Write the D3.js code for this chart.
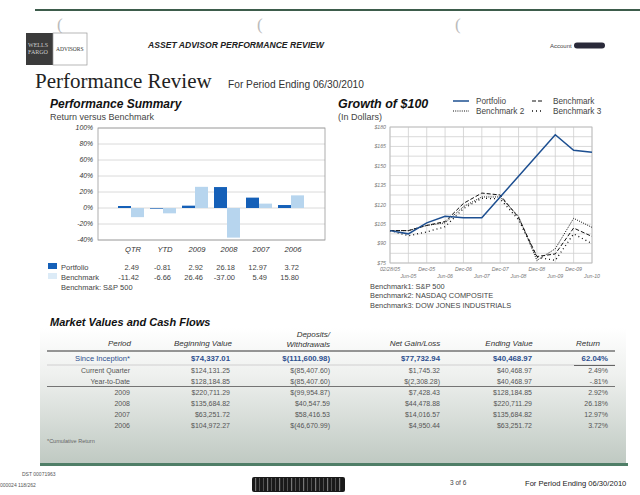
<!DOCTYPE html>
<html><head><meta charset="utf-8">
<script src="https://cdn.jsdelivr.net/npm/d3@7"></script>
<style>body{margin:0;background:#fff;} svg{display:block;font-family:"Liberation Sans",Arial,sans-serif;}</style>
</head><body><svg id="c" width="640" height="495"></svg>
<script>
// ---------- DATA ----------
const barCategories = ["QTR","YTD","2009","2008","2007","2006"];
const portfolioReturns = [2.49,-0.81,2.92,26.18,12.97,3.72];
const benchmarkReturns = [-11.42,-6.66,26.46,-37.00,5.49,15.80];
const barTicks = [100,80,60,40,20,0,-20,-40];

const growthDates = ["02/28/05","Jun-05","Dec-05","Jun-06","Dec-06","Jun-07","Dec-07","Jun-08","Dec-08","Jun-09","Dec-09","Jun-10"];
const growthPortfolio = [100,97.5,106,111,110,110,126,142,158,174,162,160.5];
const growthBench1 = [100,100,104,107,121,129,127.5,110,80,82,102,95.5];
const growthBench2 = [100,100,104,106,118.5,126,126,111,77,86,109.5,102.5];
const growthBench3 = [100,96,99,103,117,125,124.5,108.5,79.5,77,97.5,90];
const growthTicks = [75,90,105,120,135,150,165,180];

const tablePeriods = ["Since Inception*","Current Quarter","Year-to-Date","2009","2008","2007","2006"];
const tableBeginning = ["$74,337.01","$124,131.25","$128,184.85","$220,711.29","$135,684.82","$63,251.72","$104,972.27"];
const tableDeposits = ["$(111,600.98)","$(85,407.60)","$(85,407.60)","$(99,954.87)","$40,547.59","$58,416.53","$(46,670.99)"];
const tableGain = ["$77,732.94","$1,745.32","$(2,308.28)","$7,428.43","$44,478.88","$14,016.57","$4,950.44"];
const tableEnding = ["$40,468.97","$40,468.97","$40,468.97","$128,184.85","$220,711.29","$135,684.82","$63,251.72"];
const tableReturn = ["62.04%","2.49%","-.81%","2.92%","26.18%","12.97%","3.72%"];

// ---------- DRAW ----------
const svg = d3.select("#c");
const defs = svg.append("defs");
const g1 = defs.append("linearGradient").attr("id","tbg").attr("x1",0).attr("y1",0).attr("x2",0).attr("y2",1);
g1.append("stop").attr("offset","0%").attr("stop-color","#ffffff");
g1.append("stop").attr("offset","35%").attr("stop-color","#eef0ee");
g1.append("stop").attr("offset","100%").attr("stop-color","#bfc9c2");

// top green rule
svg.append("rect").attr("x",35).attr("y",9).attr("width",605).attr("height",2).attr("fill","#3d5c4b");
// binder hole marks
[[57,24],[257,24],[455,24]].forEach(p=>svg.append("text").attr("x",p[0]).attr("y",p[1]+6).attr("font-size",17).attr("fill","#bbb").attr("font-family","Liberation Serif").text("("));

// logo
svg.append("rect").attr("x",26).attr("y",33).attr("width",27).attr("height",32).attr("fill","#3b3b3b");
svg.append("text").attr("x",28).attr("y",47).attr("font-size",6).attr("font-family","Liberation Serif").attr("fill","#ccc").text("WELLS");
svg.append("text").attr("x",28).attr("y",54).attr("font-size",6).attr("font-family","Liberation Serif").attr("fill","#ccc").text("FARGO");
svg.append("rect").attr("x",53).attr("y",33).attr("width",34).attr("height",32).attr("fill","#fff").attr("stroke","#999").attr("stroke-width",0.7);
svg.append("text").attr("x",56).attr("y",51).attr("font-size",5.5).attr("font-family","Liberation Serif").attr("fill","#333").text("ADVISORS");

svg.append("text").attr("x",148).attr("y",48).attr("font-size",8.6).attr("font-weight","bold").attr("font-style","italic").attr("fill","#222").text("ASSET ADVISOR PERFORMANCE REVIEW");
svg.append("text").attr("x",550).attr("y",48).attr("font-size",6).attr("fill","#444").text("Account");
svg.append("rect").attr("x",574).attr("y",42.5).attr("width",31).attr("height",6).attr("rx",3).attr("fill","#2a2a3a");

svg.append("text").attr("x",35).attr("y",88).attr("font-size",21).attr("font-family","Liberation Serif").attr("fill","#222").text("Performance Review");
svg.append("text").attr("x",228).attr("y",88).attr("font-size",10.2).attr("fill","#333").text("For Period Ending 06/30/2010");

// ---------- Bar chart ----------
svg.append("text").attr("x",50).attr("y",108).attr("font-size",12).attr("font-weight","bold").attr("font-style","italic").attr("fill","#111").text("Performance Summary");
svg.append("text").attr("x",50).attr("y",120).attr("font-size",9).attr("fill","#444").text("Return versus Benchmark");

const bx = d3.scaleBand().domain(barCategories).range([115,307]);
const by = d3.scaleLinear().domain([-40,100]).range([240,128]);
const bw = 13;
const bp = svg.append("g");
bp.selectAll("line.g").data(barTicks).join("line").attr("x1",98).attr("x2",325)
  .attr("y1",d=>by(d)).attr("y2",d=>by(d)).attr("stroke","#d0d0d0").attr("stroke-width",0.8);
bp.append("rect").attr("x",98).attr("y",128).attr("width",227).attr("height",112).attr("fill","none").attr("stroke","#9a9a9a").attr("stroke-width",0.8);
bp.selectAll("text.t").data(barTicks).join("text").attr("x",93).attr("y",d=>by(d)+2.3)
  .attr("text-anchor","end").attr("font-size",6.8).attr("font-style","italic").attr("fill","#333").text(d=>d+"%");
const cx = c=>bx(c)+bx.bandwidth()/2;
bp.selectAll("rect.p").data(barCategories).join("rect")
  .attr("x",c=>cx(c)-bw).attr("width",bw)
  .attr("y",(c,i)=>by(Math.max(0,portfolioReturns[i]))).attr("height",(c,i)=>Math.abs(by(portfolioReturns[i])-by(0)))
  .attr("fill","#1560b8");
bp.selectAll("rect.b").data(barCategories).join("rect")
  .attr("x",c=>cx(c)).attr("width",bw)
  .attr("y",(c,i)=>by(Math.max(0,benchmarkReturns[i]))).attr("height",(c,i)=>Math.abs(by(benchmarkReturns[i])-by(0)))
  .attr("fill","#b7d5ee");
bp.selectAll("text.c").data(barCategories).join("text").attr("x",c=>cx(c)+2).attr("y",252)
  .attr("text-anchor","middle").attr("font-size",7.6).attr("font-style","italic").attr("fill","#333").text(c=>c);
// legend table
svg.append("rect").attr("x",48).attr("y",263).attr("width",9).attr("height",6).attr("fill","#1560b8");
svg.append("rect").attr("x",48).attr("y",273).attr("width",9).attr("height",6).attr("fill","#dcebf7");
svg.append("text").attr("x",61).attr("y",270).attr("font-size",7.5).attr("fill","#444").text("Portfolio");
svg.append("text").attr("x",61).attr("y",280).attr("font-size",7.5).attr("fill","#444").text("Benchmark");
svg.append("text").attr("x",61).attr("y",290).attr("font-size",7.5).attr("fill","#444").text("Benchmark: S&P 500");
svg.selectAll("text.pv").data(barCategories).join("text").attr("x",c=>cx(c)+8).attr("y",270)
  .attr("text-anchor","end").attr("font-size",7.5).attr("fill","#444").text((c,i)=>portfolioReturns[i].toFixed(2));
svg.selectAll("text.bv").data(barCategories).join("text").attr("x",c=>cx(c)+8).attr("y",280)
  .attr("text-anchor","end").attr("font-size",7.5).attr("fill","#444").text((c,i)=>benchmarkReturns[i].toFixed(2));

// ---------- Line chart ----------
svg.append("text").attr("x",338).attr("y",108).attr("font-size",12.5).attr("font-weight","bold").attr("font-style","italic").attr("fill","#111").text("Growth of $100");
svg.append("text").attr("x",338).attr("y",120).attr("font-size",9).attr("fill","#444").text("(In Dollars)");

const lx = d3.scalePoint().domain(growthDates).range([390,592]);
const ly = d3.scaleLinear().domain([75,180]).range([263,127]);
const lp = svg.append("g");
lp.selectAll("line.h").data(d3.range(75,180.1,7.5)).join("line").attr("x1",390).attr("x2",592)
  .attr("y1",d=>ly(d)).attr("y2",d=>ly(d)).attr("stroke","#cfcfcf").attr("stroke-width",0.8);
lp.selectAll("line.v").data(growthDates).join("line").attr("y1",127).attr("y2",263)
  .attr("x1",d=>lx(d)).attr("x2",d=>lx(d)).attr("stroke","#cfcfcf").attr("stroke-width",0.8);
lp.append("rect").attr("x",390).attr("y",127).attr("width",202).attr("height",136).attr("fill","none").attr("stroke","#bbb").attr("stroke-width",0.8);
lp.selectAll("text.yt").data(growthTicks).join("text").attr("x",386).attr("y",d=>ly(d)+1.8)
  .attr("text-anchor","end").attr("font-size",5.2).attr("font-style","italic").attr("fill","#777").text(d=>"$"+d);
lp.selectAll("text.xt").data(growthDates).join("text").attr("x",d=>lx(d)).attr("y",(d,i)=>i%2===0?270.5:278)
  .attr("text-anchor","middle").attr("font-size",5.2).attr("font-style","italic").attr("fill","#777").text(d=>d);
const line = d3.line().x((d,i)=>lx(growthDates[i])).y(d=>ly(d));
const series = [
  {v:growthBench3, stroke:"#111", dash:"1,3", w:1.3},
  {v:growthBench2, stroke:"#111", dash:"1,1.2", w:1},
  {v:growthBench1, stroke:"#111", dash:"4,2", w:1},
  {v:growthPortfolio, stroke:"#1d4f91", dash:null, w:1.5}
];
series.forEach(s=>lp.append("path").attr("d",line(s.v)).attr("fill","none").attr("stroke",s.stroke)
  .attr("stroke-width",s.w).attr("stroke-dasharray",s.dash));
// legend
const leg = [
  {x:453,y:101,label:"Portfolio",s:series[3]},
  {x:453,y:111,label:"Benchmark 2",s:series[1]},
  {x:532,y:101,label:"Benchmark",s:series[2]},
  {x:532,y:111,label:"Benchmark 3",s:series[0]}
];
leg.forEach(l=>{
  svg.append("line").attr("x1",l.x).attr("x2",l.x+(l.x<500?16:12)).attr("y1",l.y).attr("y2",l.y)
    .attr("stroke",l.s.stroke).attr("stroke-width",l.s.w).attr("stroke-dasharray",l.s.dash);
  svg.append("text").attr("x",l.x<500?476:553).attr("y",l.y+3).attr("font-size",8.2).attr("fill","#444").text(l.label);
});
["Benchmark1: S&P 500","Benchmark2: NASDAQ COMPOSITE","Benchmark3: DOW JONES INDUSTRIALS"].forEach((t,i)=>
  svg.append("text").attr("x",370).attr("y",288.5+i*9.5).attr("font-size",7.4).attr("fill","#444").text(t));

// ---------- Table ----------
svg.append("rect").attr("x",40).attr("y",328).attr("width",586).attr("height",136).attr("fill","url(#tbg)");
svg.append("rect").attr("x",40).attr("y",463).attr("width",588).attr("height",3).attr("fill","#4f7e67");
svg.append("text").attr("x",50).attr("y",326).attr("font-size",11).attr("font-weight","bold").attr("font-style","italic").attr("fill","#111").text("Market Values and Cash Flows");

function ht(x,y,anchor,t){svg.append("text").attr("x",x).attr("y",y).attr("text-anchor",anchor).attr("font-size",8).attr("font-style","italic").attr("fill","#333").text(t);}
ht(131,346,"end","Period");
ht(203,346,"middle","Beginning Value");
ht(330,337,"end","Deposits/");
ht(330,347,"end","Withdrawals");
ht(415,346,"middle","Net Gain/Loss");
ht(509,346,"middle","Ending Value");
ht(588,346,"middle","Return");
svg.append("line").attr("x1",47).attr("x2",615).attr("y1",351).attr("y2",351).attr("stroke","#333").attr("stroke-width",1);
svg.append("line").attr("x1",47).attr("x2",615).attr("y1",365).attr("y2",365).attr("stroke","#bbb").attr("stroke-width",0.6);
svg.append("line").attr("x1",574).attr("x2",615).attr("y1",365.5).attr("y2",365.5).attr("stroke","#444").attr("stroke-width",0.8);
svg.append("line").attr("x1",47).attr("x2",615).attr("y1",386.5).attr("y2",386.5).attr("stroke","#555").attr("stroke-width",0.8);

const rowY = i => i===0 ? 361 : 372.5 + (i-1)*11.1;
const cols = [
  {data:tablePeriods, x:130},
  {data:tableBeginning, x:230},
  {data:tableDeposits, x:330},
  {data:tableGain, x:440},
  {data:tableEnding, x:532},
  {data:tableReturn, x:608}
];
cols.forEach((c,ci)=>{
  svg.selectAll(null).data(c.data).join("text").attr("x",c.x).attr("y",(d,i)=>rowY(i))
    .attr("text-anchor","end")
    .attr("font-size",(d,i)=>i===0?(ci===0?7.6:7.8):7)
    .attr("font-weight",(d,i)=>i===0&&ci>0?"bold":"normal")
    .attr("fill",(d,i)=>i===0?"#2c4f8f":"#555").text(d=>d);
});
svg.append("text").attr("x",47).attr("y",443).attr("font-size",5.5).attr("fill","#666").text("*Cumulative Return");

// footer
svg.append("text").attr("x",22).attr("y",476).attr("font-size",5).attr("fill","#555").text("DST 00071963");
svg.append("text").attr("x",0).attr("y",487).attr("font-size",5).attr("fill","#555").text("000024 118/262");
svg.append("rect").attr("x",252).attr("y",477).attr("width",93).attr("height",15).attr("rx",2).attr("fill","#1a1a1a");
d3.range(255,343,4).forEach((x,i)=>svg.append("rect").attr("x",x).attr("y",478).attr("width",i%3===0?1.2:0.6).attr("height",13).attr("fill","#777"));
svg.append("text").attr("x",450).attr("y",485).attr("font-size",6.5).attr("fill","#444").text("3 of 6");
svg.append("text").attr("x",525).attr("y",486).attr("font-size",7.6).attr("fill","#222").text("For Period Ending 06/30/2010");
</script></body></html>
